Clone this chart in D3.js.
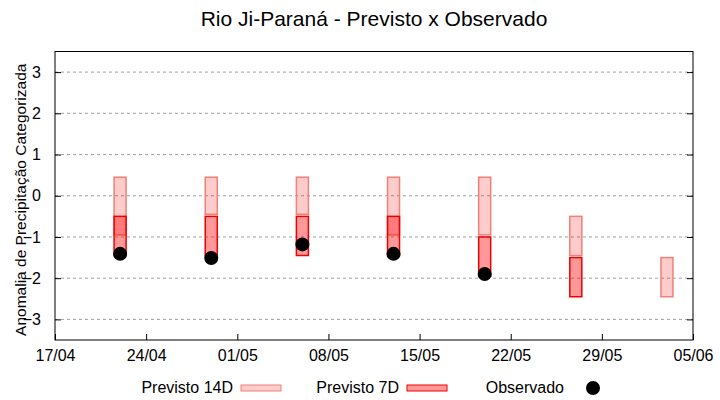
<!DOCTYPE html>
<html>
<head>
<meta charset="utf-8">
<script src="https://cdn.jsdelivr.net/npm/d3@7"></script>
<style>
  body { margin: 0; background: #fff; }
  svg { display: block; font-family: "Liberation Sans", Arial, sans-serif; }
</style>
</head>
<body>
<svg id="chart" width="720" height="400"></svg>
<script>
// ---- data ----
const dates = ["2024-04-22", "2024-04-29", "2024-05-06", "2024-05-13", "2024-05-20", "2024-05-27", "2024-06-03"];
const prev14Top    = [0.45, 0.45, 0.45, 0.45, 0.45, -0.5, -1.5];
const prev14Bottom = [-0.95, -0.45, -0.45, -0.95, -0.95, -1.45, -2.45];
const prev7Top     = [-0.5, -0.5, -0.5, -0.5, -1.0, -1.5, null];
const prev7Bottom  = [-1.45, -1.45, -1.45, -1.45, -1.95, -2.45, null];
const observed     = [-1.41, -1.51, -1.18, -1.41, -1.9, null, null];
const xTickLabels  = ["17/04", "24/04", "01/05", "08/05", "15/05", "22/05", "29/05", "05/06"];
const xTickDates   = ["2024-04-17", "2024-04-24", "2024-05-01", "2024-05-08", "2024-05-15", "2024-05-22", "2024-05-29", "2024-06-05"];
const yTicks       = [-3, -2, -1, 0, 1, 2, 3];

const parse = d3.utcParse("%Y-%m-%d");
const svg = d3.select("#chart");
const M = { left: 55, right: 693, top: 51.5, bottom: 340 };
const FONT = "Liberation Sans, Arial, sans-serif";

const x = d3.scaleUtc()
  .domain([parse(xTickDates[0]), parse(xTickDates[xTickDates.length - 1])])
  .range([M.left, M.right]);
const y = d3.scaleLinear().domain([-3.5, 3.5]).range([M.bottom, M.top]);

// grid
svg.append("g").selectAll("line").data(yTicks).join("line")
  .attr("x1", M.left).attr("x2", M.right)
  .attr("y1", d => y(d)).attr("y2", d => y(d))
  .attr("stroke", "#a0a0a0").attr("stroke-width", 1)
  .attr("stroke-dasharray", "3,3");

// y axis (left) with inward ticks
const yAxis = d3.axisLeft(y).tickValues(yTicks).tickSizeInner(-6).tickSizeOuter(0).tickPadding(14)
  .tickFormat(d3.format("d"));
const gy = svg.append("g").attr("transform", `translate(${M.left},0)`).call(yAxis);
gy.select(".domain").remove();
gy.selectAll("text").attr("font-size", 16).attr("fill", "#000").attr("font-family", FONT);
gy.selectAll("line").attr("stroke", "#000");

// right mirror ticks
const gyr = svg.append("g").attr("transform", `translate(${M.right},0)`)
  .call(d3.axisRight(y).tickValues(yTicks).tickSizeInner(-6).tickSizeOuter(0).tickFormat(""));
gyr.select(".domain").remove();
gyr.selectAll("line").attr("stroke", "#000");

// x axis with inward ticks
const xAxis = d3.axisBottom(x).tickValues(xTickDates.map(parse)).tickSizeInner(-6).tickSizeOuter(0)
  .tickPadding(10)
  .tickFormat((d, i) => xTickLabels[i]);
const gx = svg.append("g").attr("transform", `translate(0,${M.bottom})`).call(xAxis);
gx.select(".domain").remove();
gx.selectAll("text").attr("font-size", 16).attr("fill", "#000").attr("font-family", FONT)
  .attr("textLength", 40).attr("lengthAdjust", "spacingAndGlyphs");
gx.selectAll("line").attr("stroke", "#000");

// border
svg.append("rect").attr("x", M.left).attr("y", M.top)
  .attr("width", M.right - M.left).attr("height", M.bottom - M.top)
  .attr("fill", "none").attr("stroke", "#000").attr("stroke-width", 1);

// bars
const barW = 12;
const rows = dates.map((d, i) => ({
  date: parse(d), t14: prev14Top[i], b14: prev14Bottom[i],
  t7: prev7Top[i], b7: prev7Bottom[i], obs: observed[i]
}));

svg.append("g").selectAll("rect").data(rows).join("rect")
  .attr("x", d => x(d.date) - barW / 2).attr("width", barW)
  .attr("y", d => y(d.t14)).attr("height", d => y(d.b14) - y(d.t14))
  .attr("fill", "rgba(255,0,0,0.2)").attr("stroke", "#f08078").attr("stroke-width", 1.5);

svg.append("g").selectAll("rect").data(rows.filter(d => d.t7 != null)).join("rect")
  .attr("x", d => x(d.date) - barW / 2).attr("width", barW)
  .attr("y", d => y(d.t7)).attr("height", d => y(d.b7) - y(d.t7))
  .attr("fill", "rgba(255,0,0,0.4)").attr("stroke", "#ee0000").attr("stroke-width", 1.5);

svg.append("g").selectAll("circle").data(rows.filter(d => d.obs != null)).join("circle")
  .attr("cx", d => x(d.date)).attr("cy", d => y(d.obs)).attr("r", 7).attr("fill", "#000");

// title
svg.append("text").attr("x", (M.left + M.right) / 2).attr("y", 26)
  .attr("text-anchor", "middle").attr("font-size", 21).attr("fill", "#000")
  .text("Rio Ji-Paraná - Previsto x Observado");

// y label
svg.append("text")
  .attr("transform", `translate(26,${(M.top + M.bottom) / 2 + 4}) rotate(-90)`)
  .attr("text-anchor", "middle").attr("font-size", 15.5).attr("fill", "#000")
  .text("Anomalia de Precipitação Categorizada");

// legend
const lg = svg.append("g").attr("font-size", 16);
const legendY = 388;
lg.append("text").attr("x", 233).attr("y", legendY + 5).attr("text-anchor", "end").text("Previsto 14D");
lg.append("rect").attr("x", 241).attr("y", legendY - 3).attr("width", 40).attr("height", 6)
  .attr("fill", "rgba(255,0,0,0.2)").attr("stroke", "#f08078").attr("stroke-width", 1);
lg.append("text").attr("x", 399).attr("y", legendY + 5).attr("text-anchor", "end").text("Previsto 7D");
lg.append("rect").attr("x", 407).attr("y", legendY - 3).attr("width", 40).attr("height", 6)
  .attr("fill", "rgba(255,0,0,0.4)").attr("stroke", "#ee0000").attr("stroke-width", 1);
lg.append("text").attr("x", 564).attr("y", legendY + 5).attr("text-anchor", "end").text("Observado");
lg.append("circle").attr("cx", 593).attr("cy", legendY).attr("r", 7).attr("fill", "#000");
</script>
</body>
</html>
